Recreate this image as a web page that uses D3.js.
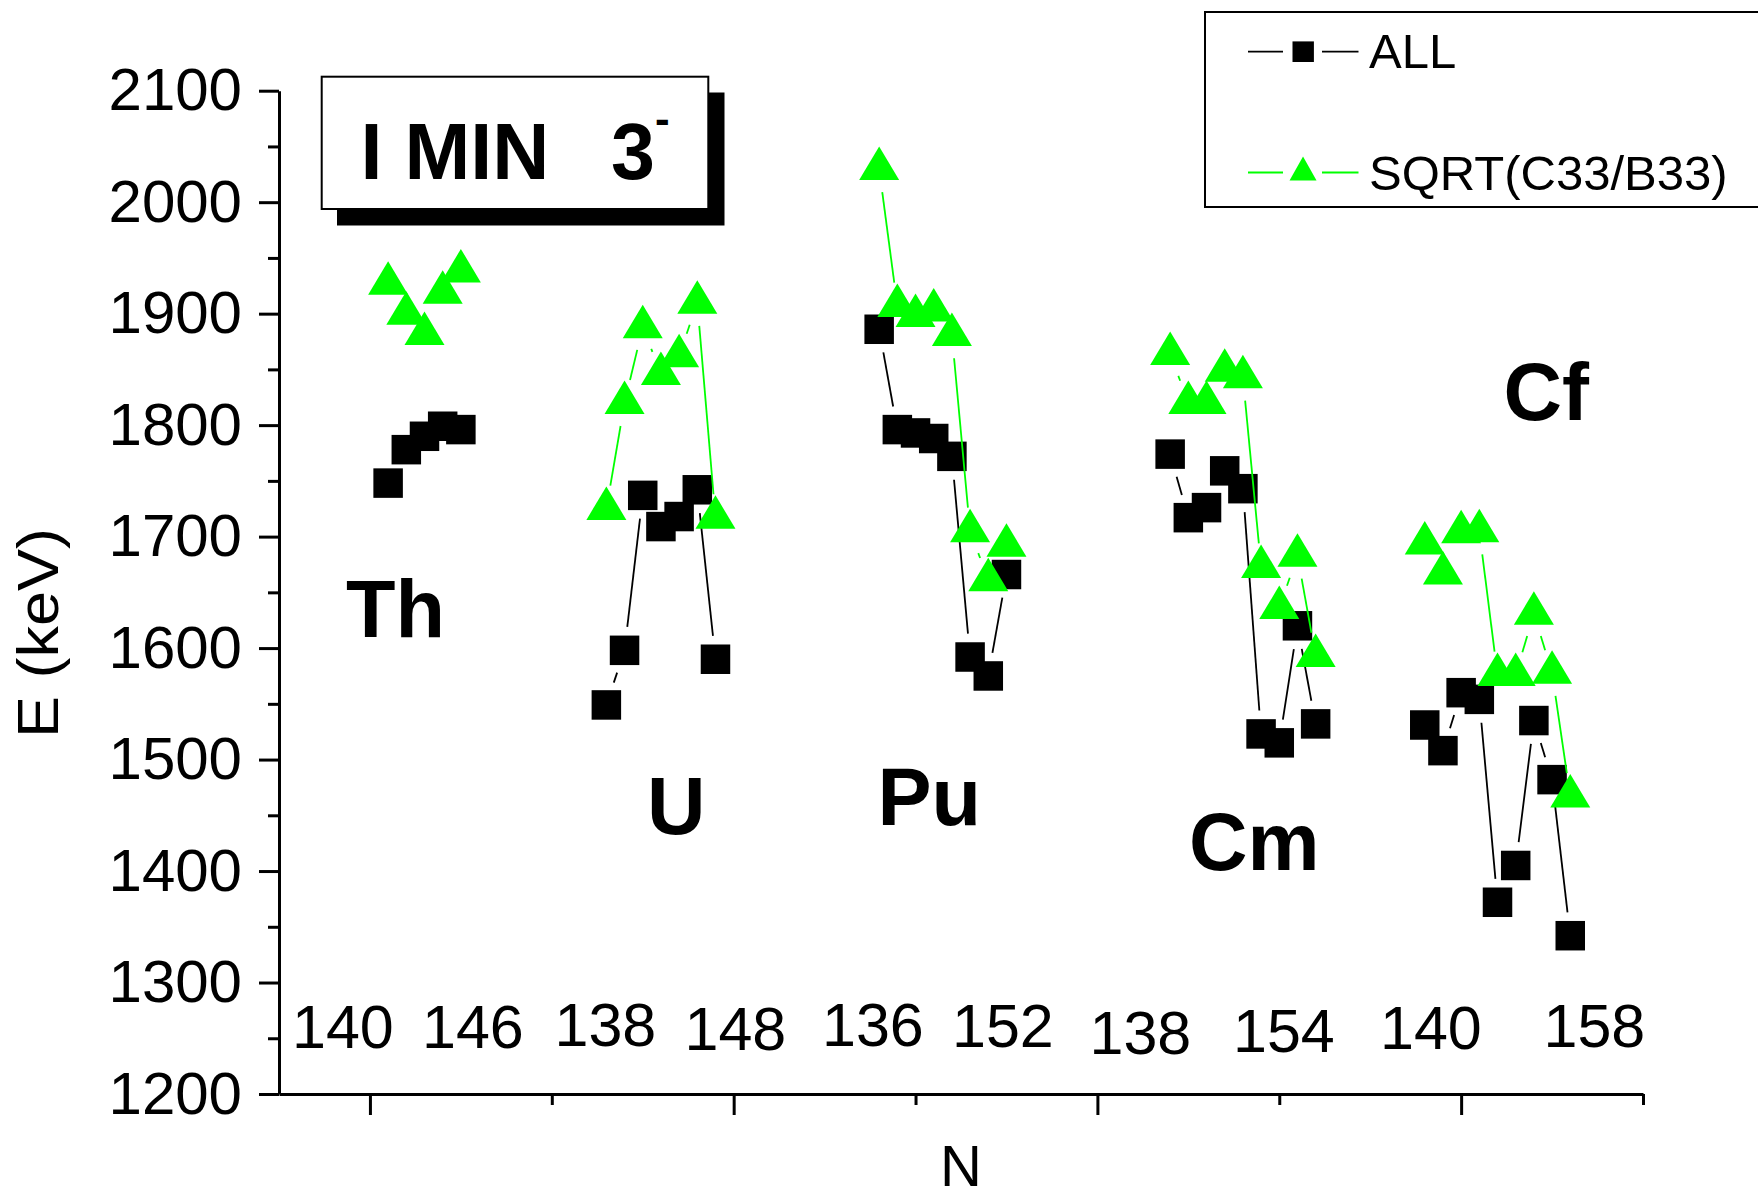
<!DOCTYPE html>
<html><head><meta charset="utf-8">
<script src="https://cdn.jsdelivr.net/npm/d3@7"></script>
<style>
body{margin:0;background:#fff}
svg{display:block}
text{font-family:"Liberation Sans", Arial, Helvetica, sans-serif}
</style>
</head><body>
<svg id="chart" width="1758" height="1198"></svg>
<script>
// ---------- data ----------
const elements = ["Th", "U", "Pu", "Cm", "Cf"];
const thX = [1, 2, 3, 4, 5];
const thAll = [1748, 1778, 1790, 1799, 1796];
const thSqrt = [1927, 1900, 1882, 1919, 1938];
const uX = [13, 14, 15, 16, 17, 18, 19];
const uAll = [1549, 1598, 1737, 1709, 1718, 1742, 1590];
const uSqrt = [1725, 1820, 1888, 1846, 1862, 1910, 1717];
const puX = [28, 29, 30, 31, 32, 33, 34, 35];
const puAll = [1886, 1796, 1793, 1788, 1772, 1592, 1575, 1666];
const puSqrt = [2030, 1907, 1898, 1903, 1881, 1705, 1661, 1692];
const cmX = [44, 45, 46, 47, 48, 49, 50, 51, 52];
const cmAll = [1774, 1717, 1726, 1759, 1743, 1523, 1515, 1620, 1532];
const cmSqrt = [1864, 1820, 1820, 1849, 1843, 1673, 1636, 1683, 1593];
const cfX = [58, 59, 60, 61, 62, 63, 64, 65, 66];
const cfAll = [1531, 1508, 1560, 1554, 1372, 1405, 1535, 1482, 1342];
const cfSqrt = [1694, 1667, 1704, 1705, 1576, 1576, 1631, 1578, 1467];
const yMajor = [1200, 1300, 1400, 1500, 1600, 1700, 1800, 1900, 2000, 2100];
const yMinor = [1250, 1350, 1450, 1550, 1650, 1750, 1850, 1950, 2050];
const xMajor = [0, 20, 40, 60];
const xMinor = [10, 30, 50, 70];
const seriesNames = ["ALL", "SQRT(C33/B33)"];
const nLabels = ["140", "146", "138", "148", "136", "152", "138", "154", "140", "158"];

const groups = [
  {name: elements[0], x: thX, all: thAll, sqrt: thSqrt},
  {name: elements[1], x: uX, all: uAll, sqrt: uSqrt},
  {name: elements[2], x: puX, all: puAll, sqrt: puSqrt},
  {name: elements[3], x: cmX, all: cmAll, sqrt: cmSqrt},
  {name: elements[4], x: cfX, all: cfAll, sqrt: cfSqrt}
];

// ---------- layout ----------
const svg = d3.select("#chart");
const x = d3.scaleLinear().domain([-5, 70]).range([279, 1643]);
const y = d3.scaleLinear().domain([1200, 2100]).range([1094, 90.7]);
const GREEN = "#00ff00";
const GAP = 23.5;

// axes
function styleAxis(g) {
  g.attr("color", "#000");
  g.selectAll("path.domain").attr("stroke-width", 3);
  g.selectAll(".tick line").attr("stroke-width", 3);
}
const yAxis = svg.append("g").attr("transform", "translate(279,0)")
  .call(d3.axisLeft(y).tickValues(yMajor).tickSize(20).tickSizeOuter(0).tickPadding(17).tickFormat(d3.format("d")));
styleAxis(yAxis);
yAxis.selectAll(".tick text").attr("font-size", 60).attr("font-family", "Liberation Sans, Arial, sans-serif").attr("fill", "#000");
const yMin = svg.append("g").attr("transform", "translate(279,0)")
  .call(d3.axisLeft(y).tickValues(yMinor).tickSize(11).tickSizeOuter(0).tickFormat(""));
styleAxis(yMin); yMin.select("path.domain").remove();

const xAxis = svg.append("g").attr("transform", "translate(0,1094)")
  .call(d3.axisBottom(x).tickValues(xMajor).tickSize(21).tickSizeOuter(0).tickFormat(""));
styleAxis(xAxis);
const xMin = svg.append("g").attr("transform", "translate(0,1094)")
  .call(d3.axisBottom(x).tickValues(xMinor).tickSize(11).tickSizeOuter(0).tickFormat(""));
styleAxis(xMin); xMin.select("path.domain").remove();

// axis titles
svg.append("text").attr("transform", "translate(58,633) rotate(-90)")
  .attr("text-anchor", "middle").attr("font-size", 57)
  .attr("textLength", 210).attr("lengthAdjust", "spacingAndGlyphs").text("E (keV)");
svg.append("text").attr("x", 961).attr("y", 1186).attr("text-anchor", "middle")
  .attr("font-size", 58).text("N");

// ---------- series ----------
function gappedSegments(xs, vs) {
  const pts = xs.map((d, i) => [x(d), y(vs[i])]);
  const segs = [];
  for (let i = 0; i < pts.length - 1; i++) {
    const [x1, y1] = pts[i], [x2, y2] = pts[i + 1];
    const dx = x2 - x1, dy = y2 - y1, len = Math.hypot(dx, dy);
    if (len > 2 * GAP) {
      const ux = dx / len, uy = dy / len;
      segs.push([x1 + ux * GAP, y1 + uy * GAP, x2 - ux * GAP, y2 - uy * GAP]);
    }
  }
  return segs;
}
const SQ = 29.5, TW = 40, TH = 33.5;
function triPath(cx, cy, w, h) {
  return `M${cx},${cy - 2 * h / 3}L${cx + w / 2},${cy + h / 3}L${cx - w / 2},${cy + h / 3}Z`;
}

const gAll = svg.append("g");
const gSqrt = svg.append("g");
groups.forEach(gr => {
  gAll.selectAll(null).data(gappedSegments(gr.x, gr.all)).enter().append("line")
    .attr("x1", d => d[0]).attr("y1", d => d[1]).attr("x2", d => d[2]).attr("y2", d => d[3])
    .attr("stroke", "#000").attr("stroke-width", 1.8);
  gAll.selectAll(null).data(gr.x.map((d, i) => [d, gr.all[i]])).enter().append("rect")
    .attr("x", d => x(d[0]) - SQ / 2).attr("y", d => y(d[1]) - SQ / 2)
    .attr("width", SQ).attr("height", SQ).attr("fill", "#000");
});
groups.forEach(gr => {
  gSqrt.selectAll(null).data(gappedSegments(gr.x, gr.sqrt)).enter().append("line")
    .attr("x1", d => d[0]).attr("y1", d => d[1]).attr("x2", d => d[2]).attr("y2", d => d[3])
    .attr("stroke", GREEN).attr("stroke-width", 1.8);
  gSqrt.selectAll(null).data(gr.x.map((d, i) => [d, gr.sqrt[i]])).enter().append("path")
    .attr("d", d => triPath(x(d[0]), y(d[1]), TW, TH)).attr("fill", GREEN);
});

// ---------- element labels ----------
const elemPos = [[346, 637], [647, 834], [877.5, 825], [1189, 870], [1503.5, 420]];
svg.append("g").selectAll("text").data(elements).enter().append("text")
  .attr("x", (d, i) => elemPos[i][0]).attr("y", (d, i) => elemPos[i][1])
  .attr("font-size", 81).attr("font-weight", "bold").text(d => d);

// N range labels
const nPos = [[292, 1048], [422, 1048], [554.5, 1046], [684.5, 1050], [822, 1045.5],
              [952, 1047], [1089.5, 1054], [1233, 1052], [1380, 1049], [1543.5, 1047]];
svg.append("g").selectAll("text").data(nLabels).enter().append("text")
  .attr("x", (d, i) => nPos[i][0]).attr("y", (d, i) => nPos[i][1])
  .attr("font-size", 61).text(d => d);

// ---------- title box ----------
const tb = svg.append("g");
tb.append("rect").attr("x", 337).attr("y", 92.5).attr("width", 387.5).attr("height", 133).attr("fill", "#000");
tb.append("rect").attr("x", 321.7).attr("y", 76.7).attr("width", 386.6).attr("height", 132.3)
  .attr("fill", "#fff").attr("stroke", "#000").attr("stroke-width", 2);
const tt = tb.append("text").attr("font-size", 79).attr("font-weight", "bold").attr("y", 179);
tt.append("tspan").attr("x", 360.5).text("I MIN");
tt.append("tspan").attr("x", 611).text("3");
tt.append("tspan").attr("x", 655).attr("y", 134).attr("font-size", 44).text("-");

// ---------- legend ----------
const lg = svg.append("g");
lg.append("rect").attr("x", 1205).attr("y", 12).attr("width", 600).attr("height", 195)
  .attr("fill", "#fff").attr("stroke", "#000").attr("stroke-width", 2);
const legRows = [
  {name: seriesNames[0], color: "#000", y: 51.7, ty: 68.3, sym: "sq"},
  {name: seriesNames[1], color: GREEN, y: 172.5, ty: 190, sym: "tri"}
];
legRows.forEach(r => {
  lg.append("line").attr("x1", 1248).attr("x2", 1283).attr("y1", r.y).attr("y2", r.y)
    .attr("stroke", r.color).attr("stroke-width", 1.8);
  lg.append("line").attr("x1", 1322).attr("x2", 1358.5).attr("y1", r.y).attr("y2", r.y)
    .attr("stroke", r.color).attr("stroke-width", 1.8);
  if (r.sym === "sq") {
    lg.append("rect").attr("x", 1292.5).attr("y", r.y - 10.3).attr("width", 21.4).attr("height", 20.6).attr("fill", r.color);
  } else {
    lg.append("path").attr("d", triPath(1303, r.y, 27, 24)).attr("fill", r.color);
  }
  lg.append("text").attr("x", 1369).attr("y", r.ty).attr("font-size", 49).text(r.name);
});
</script>
</body></html>
